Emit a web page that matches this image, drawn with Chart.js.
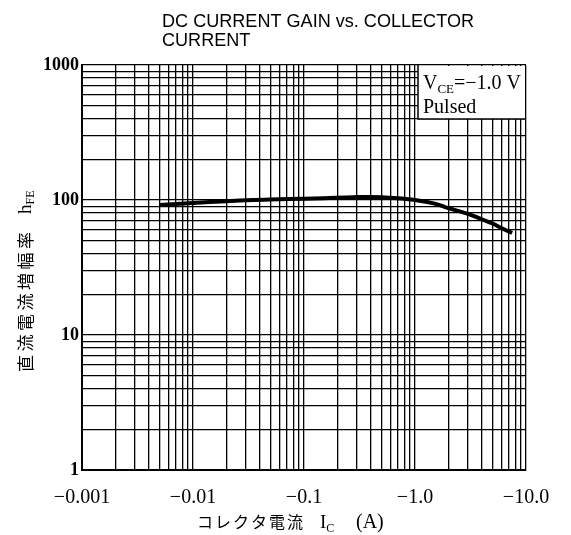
<!DOCTYPE html>
<html>
<head>
<meta charset="utf-8">
<script src="https://cdn.jsdelivr.net/npm/chart.js@4"></script>
<style>
html, body { margin: 0; padding: 0; background: #fff; }
#wrap { width: 571px; height: 535px; position: relative; }
</style>
</head>
<body>
<div id="wrap"><canvas id="grafico"></canvas></div>
<script>
// Dados (Ic em valor absoluto, A)
const correnteIc = [0.005, 0.007, 0.01, 0.02, 0.035, 0.05, 0.1, 0.15, 0.28, 0.5, 0.8, 1.0, 1.5, 2.0, 3.0, 4.0, 5.0, 6.0, 7.5];
const ganhoHfe   = [92, 93.5, 95, 98, 100, 101, 102, 103, 105, 105, 102, 100, 94, 87, 79, 72, 67, 62, 57];

// Rótulos dos eixos
const xTickValores = [0.001, 0.01, 0.1, 1, 10];
const xTickLabels  = ['−0.001', '−0.01', '−0.1', '−1.0', '−10.0'];
const yTickValores = [1, 10, 100, 1000];
const yTickLabels  = ['1', '10', '100', '1000'];

// Linhas da grade log: 1..9 em cada década
function gradeLog(min, max) {
    const valores = [];
    for (let e = Math.round(Math.log10(min)); e < Math.round(Math.log10(max)); e++) {
        for (let m = 1; m <= 9; m++) valores.push(m * Math.pow(10, e));
    }
    valores.push(max);
    return valores.map(v => ({ value: v }));
}

function rotulo(valor, valores, labels) {
    const i = valores.findIndex(t => Math.abs(Math.log10(t) - Math.log10(valor)) < 1e-6);
    return i >= 0 ? labels[i] : '';
}

// Textos desenhados à mão (título, caixa, títulos dos eixos)
const textos = {
    id: 'textos',
    afterDraw(chart) {
        const ctx = chart.ctx;
        const area = chart.chartArea;
        ctx.save();
        ctx.fillStyle = '#000';

        // Título
        ctx.font = '18px "Liberation Sans"';
        ctx.textBaseline = 'alphabetic';
        ctx.textAlign = 'left';
        const linha1 = 'DC CURRENT GAIN vs. COLLECTOR';
        const esc = 312 / ctx.measureText(linha1).width;
        ctx.save();
        ctx.translate(162, 27);
        ctx.scale(esc, 1);
        ctx.fillText(linha1, 0, 0);
        ctx.fillText('CURRENT', 0, 19);
        ctx.restore();

        // Caixa de condições
        const bx = 418, by = 119;
        ctx.fillStyle = '#fff';
        ctx.fillRect(bx, area.top + 1, area.right - bx - 1, by - area.top - 1);
        ctx.strokeStyle = '#000';
        ctx.lineWidth = 1.5;
        ctx.beginPath();
        ctx.moveTo(bx, area.top);
        ctx.lineTo(bx, by);
        ctx.lineTo(area.right, by);
        ctx.stroke();
        ctx.fillStyle = '#000';
        let x = bx + 5;
        ctx.font = '20px "Liberation Serif"';
        ctx.fillText('V', x, 89);
        x += ctx.measureText('V').width;
        ctx.font = '13px "Liberation Serif"';
        ctx.fillText('CE', x, 93);
        x += ctx.measureText('CE').width;
        ctx.font = '20px "Liberation Serif"';
        ctx.fillText('=−1.0 V', x, 89);
        ctx.fillText('Pulsed', bx + 5, 113);

        // Título do eixo X
        ctx.font = '16px "Noto Sans CJK JP"';
        let px = 197;
        for (const c of 'コレクタ電流') { ctx.fillText(c, px, 528); px += 18; }
        px = 320;
        ctx.font = '19px "Liberation Serif"';
        ctx.fillText('I', px, 528);
        px += ctx.measureText('I').width;
        ctx.font = '12px "Liberation Serif"';
        ctx.fillText('C', px, 532);
        ctx.font = '20px "Liberation Serif"';
        ctx.fillText('(A)', 356, 528);

        // Título do eixo Y (rotacionado)
        ctx.save();
        ctx.translate(26, 372);
        ctx.rotate(-Math.PI / 2);
        ctx.textBaseline = 'middle';
        ctx.font = '17px "Noto Sans CJK JP"';
        let py = 0;
        for (const c of '直流電流増幅率') { ctx.fillText(c, py, 0); py += 20.5; }
        py = 158;
        ctx.font = '19px "Liberation Serif"';
        ctx.fillText('h', py, 0);
        py += ctx.measureText('h').width;
        ctx.font = '12px "Liberation Serif"';
        ctx.fillText('FE', py, 5);
        ctx.restore();

        ctx.restore();
    }
};

const pontos = correnteIc.map((v, i) => ({ x: v, y: ganhoHfe[i] }));

new Chart(document.getElementById('grafico'), {
    type: 'line',
    data: {
        datasets: [{
            data: pontos,
            borderColor: '#000',
            borderWidth: 4,
            pointRadius: 0,
            tension: 0.4,
            fill: false
        }]
    },
    options: {
        responsive: true,
        maintainAspectRatio: false,
        animation: false,
        layout: { padding: { top: 65, right: 45, left: 0, bottom: 0 } },
        plugins: { legend: { display: false }, tooltip: { enabled: false } },
        scales: {
            x: {
                type: 'logarithmic',
                min: 0.001,
                max: 10,
                afterBuildTicks: s => { s.ticks = gradeLog(0.001, 10); },
                afterFit: s => { s.height = 65; s.paddingLeft = 0; s.paddingRight = 0; },
                ticks: {
                    autoSkip: false,
                    maxRotation: 0,
                    padding: 16,
                    color: '#000',
                    font: { family: '"Liberation Serif"', size: 20 },
                    callback: v => rotulo(v, xTickValores, xTickLabels)
                },
                grid: { color: '#000', lineWidth: 1.3, drawTicks: false },
                border: { color: '#000', width: 2 }
            },
            y: {
                type: 'logarithmic',
                min: 1,
                max: 1000,
                afterBuildTicks: s => { s.ticks = gradeLog(1, 1000); },
                afterFit: s => { s.width = 82; s.paddingTop = 0; s.paddingBottom = 0; },
                ticks: {
                    autoSkip: false,
                    padding: 3,
                    color: '#000',
                    font: { family: '"Liberation Serif"', size: 18, weight: 'bold' },
                    callback: v => rotulo(v, yTickValores, yTickLabels)
                },
                grid: { color: '#000', lineWidth: 1.3, drawTicks: false },
                border: { color: '#000', width: 2 }
            }
        }
    },
    plugins: [textos]
});
</script>
</body>
</html>
